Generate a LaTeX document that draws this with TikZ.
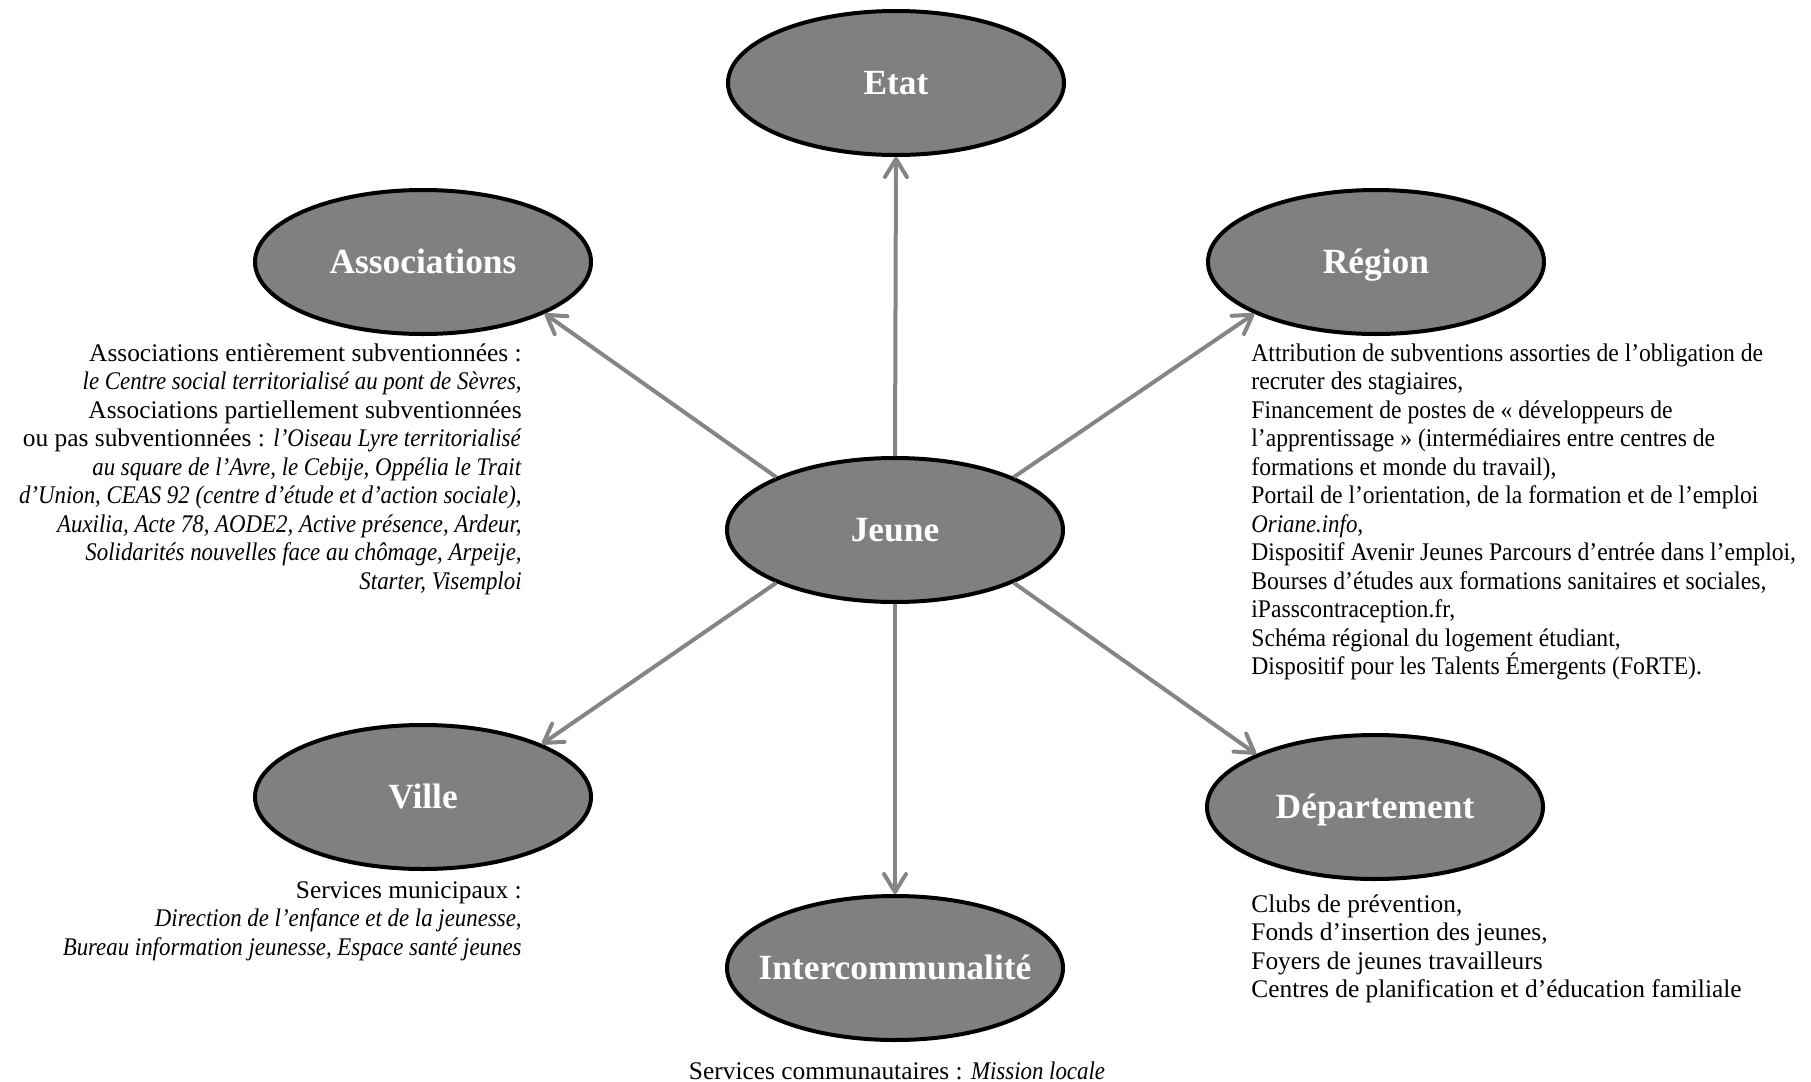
\documentclass[tikz,border=0pt]{standalone}
\usepackage{fontspec}
\setmainfont{Liberation Serif}[ItalicFeatures={FakeStretch=0.9}]
\newfontfamily\regionfont{Liberation Serif}[FakeStretch=0.93, ItalicFeatures={FakeStretch=0.9}]
\usetikzlibrary{arrows.meta,shapes.geometric}
\definecolor{ovalgray}{HTML}{808080}
\definecolor{arrowgray}{HTML}{858585}
\newcommand{\ovallabel}[1]{\makebox[0pt][c]{#1}}
\begin{document}
\begin{tikzpicture}[x=0.5pt,y=-0.5pt,
  oval/.style={ellipse, draw=black, line width=2pt, fill=ovalgray,
    minimum width=168pt, minimum height=72pt, inner sep=0pt,
    text=white, font=\fontsize{17.7}{20}\selectfont\bfseries,
    text height=11.7pt, text depth=0pt},
  conn/.style={draw=arrowgray, line width=2pt,
    -{Straight Barb[length=9pt,width=11pt,round]}},
  body/.style={inner sep=0pt, font=\fontsize{12.7}{14.25}\selectfont}
]
\useasboundingbox (0,0) rectangle (1811,1082);

\node[oval] (etat)  at (896,83)   {\ovallabel{Etat}};
\node[oval] (assoc) at (423,262)  {\ovallabel{Associations}};
\node[oval] (region) at (1376,262) {\ovallabel{Région}};
\node[oval] (jeune) at (895,530)  {\ovallabel{Jeune}};
\node[oval] (ville) at (423,797)  {\ovallabel{Ville}};
\node[oval] (dept)  at (1375,807) {\ovallabel{Département}};
\node[oval] (inter) at (895,968)  {\ovallabel{Intercommunalité}};

\draw[conn] (jeune.north) -- (etat.south);
\draw[conn] (jeune.south) -- (inter.north);
\draw[conn] (jeune.156) -- (assoc.-23);
\draw[conn] (jeune.24) -- (region.203);
\draw[conn] (jeune.204) -- (ville.24);
\draw[conn] (jeune.-24) -- (dept.156);

\node[body, anchor=north east, align=right] (assoctext) at (522,343) {%
Associations entièrement subventionnées :\\
\textit{le Centre social territorialisé au pont de Sèvres,}\\
Associations partiellement subventionnées\\
ou pas subventionnées : \textit{l’Oiseau Lyre territorialisé}\\
\textit{au square de l’Avre, le Cebije, Oppélia le Trait}\\
\textit{d’Union, CEAS 92 (centre d’étude et d’action sociale),}\\
\textit{Auxilia, Acte 78, AODE2, Active présence, Ardeur,}\\
\textit{Solidarités nouvelles face au chômage, Arpeije,}\\
\textit{Starter, Visemploi}};

\node[body, anchor=north west, align=left, font=\fontsize{12.7}{14.25}\selectfont\regionfont] (regiontext) at (1251,343) {%
Attribution de subventions assorties de l’obligation de\\
recruter des stagiaires,\\
Financement de postes de «~développeurs de\\
l’apprentissage~» (intermédiaires entre centres de\\
formations et monde du travail),\\
Portail de l’orientation, de la formation et de l’emploi\\
\textit{Oriane.info},\\
Dispositif Avenir Jeunes Parcours d’entrée dans l’emploi,\\
Bourses d’études aux formations sanitaires et sociales,\\
iPasscontraception.fr,\\
Schéma régional du logement étudiant,\\
Dispositif pour les Talents Émergents (FoRTE).};

\node[body, anchor=north west, align=left] (depttext) at (1251,894) {%
Clubs de prévention,\\
Fonds d’insertion des jeunes,\\
Foyers de jeunes travailleurs\\
Centres de planification et d’éducation familiale};

\node[body, anchor=north east, align=right] (villetext) at (522,881) {%
Services municipaux :\\
\textit{Direction de l’enfance et de la jeunesse,}\\
\textit{Bureau information jeunesse, Espace santé jeunes}};

\node[body, anchor=base] (intertext) at (897,1079) {%
Services communautaires : \textit{Mission locale}};
\end{tikzpicture}
\end{document}
